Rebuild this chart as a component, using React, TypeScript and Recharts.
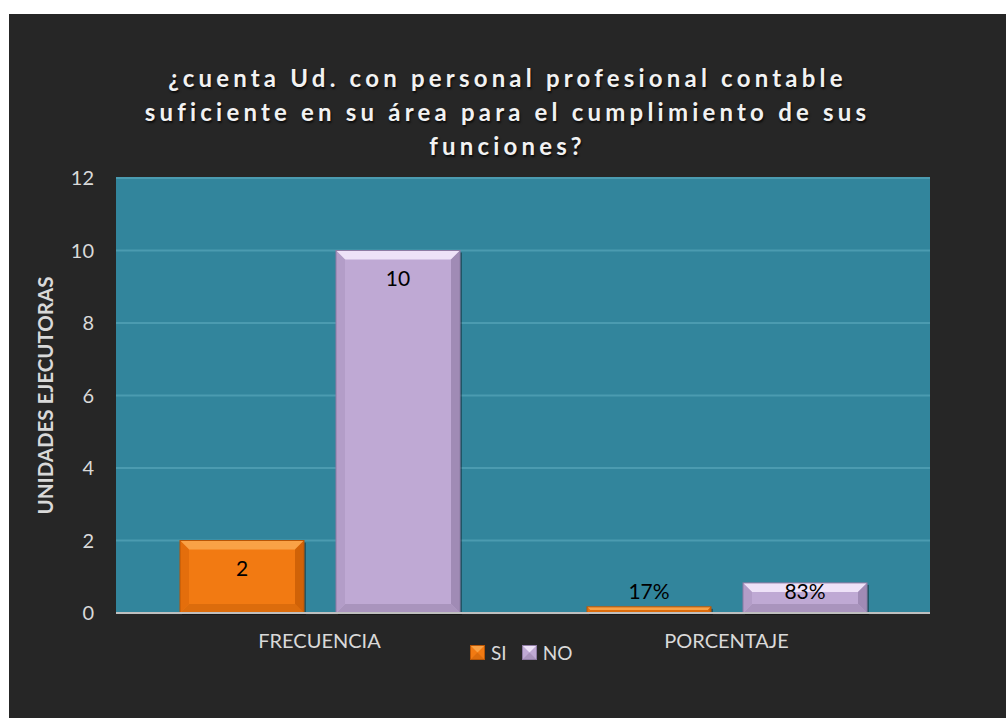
import { Bar, BarChart, CartesianGrid, LabelList, XAxis, YAxis } from 'recharts';

const categories = ['FRECUENCIA', 'PORCENTAJE'];
const seriesNames = ['SI', 'NO'];
const siValues = [2, 0.17];
const noValues = [10, 0.83];
const siLabels = ['2', '17%'];
const noLabels = ['10', '83%'];
const yTicks = [0, 2, 4, 6, 8, 10, 12];
const titleLines = [
  '¿cuenta Ud. con personal profesional contable',
  'suficiente en su área para el cumplimiento de sus',
  'funciones?',
];

const data = categories.map((name, i) => ({
  name,
  si: siValues[i],
  no: noValues[i],
  siLabel: siLabels[i],
  noLabel: noLabels[i],
}));

const FONT = 'Lato, "Open Sans", sans-serif';

type Palette = { main: string; top: string; left: string; right: string; bottom: string; edge: string };

const orange: Palette = {
  main: '#f27a12',
  top: '#f9a246',
  left: '#e46e0c',
  right: '#d06207',
  bottom: '#dc6c0c',
  edge: '#b85606',
};
const lilac: Palette = {
  main: '#bfa9d4',
  top: '#eee2f8',
  left: '#b39dc8',
  right: '#a08bb5',
  bottom: '#a994bd',
  edge: '#8e7ba3',
};

const BevelBar = (props: any) => {
  const { x, y, width: w, height: h, pal } = props;
  if (!h || h <= 0) return null;
  const b = Math.min(9, h / 2, w / 2);
  return (
    <g>
      <rect x={x + 2} y={y + 2} width={w} height={h} fill="rgba(0,0,0,0.35)" />
      <rect x={x} y={y} width={w} height={h} fill={pal.main} />
      <polygon points={`${x},${y} ${x + w},${y} ${x + w - b},${y + b} ${x + b},${y + b}`} fill={pal.top} />
      <polygon
        points={`${x},${y + h} ${x + w},${y + h} ${x + w - b},${y + h - b} ${x + b},${y + h - b}`}
        fill={pal.bottom}
      />
      <polygon points={`${x},${y} ${x + b},${y + b} ${x + b},${y + h - b} ${x},${y + h}`} fill={pal.left} />
      <polygon
        points={`${x + w},${y} ${x + w - b},${y + b} ${x + w - b},${y + h - b} ${x + w},${y + h}`}
        fill={pal.right}
      />
      <rect x={x} y={y} width={w} height={h} fill="none" stroke={pal.edge} strokeWidth={1} />
    </g>
  );
};

const BarLabel = (props: any) => {
  const { x, y, width, height, value } = props;
  const top = Math.min(y + 19, y + height - 31);
  return (
    <text
      x={x + width / 2}
      y={top}
      dy="0.8em"
      textAnchor="middle"
      fill="#000"
      fontSize={21}
      fontFamily={FONT}
    >
      {value}
    </text>
  );
};

const LegendIcon = ({ pal }: { pal: Palette }) => (
  <svg width={15} height={15} style={{ verticalAlign: 'middle', marginRight: 6 }}>
    <rect x={0} y={0} width={15} height={15} fill={pal.main} />
    <polygon points="0,0 15,0 7.5,7.5" fill={pal.top} />
    <polygon points="0,15 15,15 7.5,7.5" fill={pal.bottom} />
    <rect x={0.5} y={0.5} width={14} height={14} fill="none" stroke={pal.edge} />
  </svg>
);

const App = () => {
  const pals = [orange, lilac];
  return (
    <div style={{ position: 'fixed', left: 0, top: 0, width: 1006, height: 718, background: '#fff' }}>
      <div style={{ position: 'absolute', left: 9, top: 14, width: 997, height: 704, background: '#262626' }}>
        <div
          style={{
            position: 'absolute',
            left: 0,
            top: 47,
            width: 997,
            textAlign: 'center',
            color: '#f2f2f2',
            fontFamily: FONT,
            fontWeight: 700,
            fontSize: 24,
            letterSpacing: 4.2,
            lineHeight: '34px',
            textShadow: '1px 2px 2px rgba(0,0,0,0.7)',
          }}
        >
          {titleLines.map((t) => (
            <div key={t}>{t}</div>
          ))}
        </div>
        <BarChart
          width={997}
          height={704}
          data={data}
          margin={{ top: 164, right: 76, bottom: 65, left: 47 }}
          barSize={124}
          barGap={32}
        >
          <CartesianGrid vertical={false} horizontal={true} fill="#32859c" stroke="#4b9bb0" strokeWidth={2} />
          <XAxis
            dataKey="name"
            height={40}
            tickSize={0}
            tickMargin={21}
            axisLine={{ stroke: '#bfbfbf', strokeWidth: 2 }}
            tickLine={false}
            tick={{ fill: '#d9d9d9', fontSize: 20, fontFamily: FONT }}
          />
          <YAxis
            width={60}
            domain={[0, 12]}
            ticks={yTicks}
            interval={0}
            tickSize={0}
            tickMargin={22}
            axisLine={false}
            tickLine={false}
            tick={{ fill: '#d9d9d9', fontSize: 20, fontFamily: FONT }}
            label={{
              value: 'UNIDADES EJECUTORAS',
              angle: -90,
              position: 'insideLeft',
              offset: -10,
              style: { textAnchor: 'middle', fill: '#d9d9d9', fontSize: 20.5, fontWeight: 700, fontFamily: FONT },
            }}
          />
          <Bar dataKey="si" name={seriesNames[0]} isAnimationActive={false} shape={(p: any) => <BevelBar {...p} pal={orange} />}>
            <LabelList dataKey="siLabel" content={BarLabel} />
          </Bar>
          <Bar dataKey="no" name={seriesNames[1]} isAnimationActive={false} shape={(p: any) => <BevelBar {...p} pal={lilac} />}>
            <LabelList dataKey="noLabel" content={BarLabel} />
          </Bar>
        </BarChart>
        <div
          style={{
            position: 'absolute',
            left: 461,
            top: 627,
            display: 'flex',
            alignItems: 'center',
            color: '#d9d9d9',
            fontFamily: FONT,
            fontSize: 19,
          }}
        >
          {seriesNames.map((n, i) => (
            <span key={n} style={{ display: 'flex', alignItems: 'center', marginRight: 15 }}>
              <LegendIcon pal={pals[i]} />
              {n}
            </span>
          ))}
        </div>
      </div>
    </div>
  );
};

export default App;
